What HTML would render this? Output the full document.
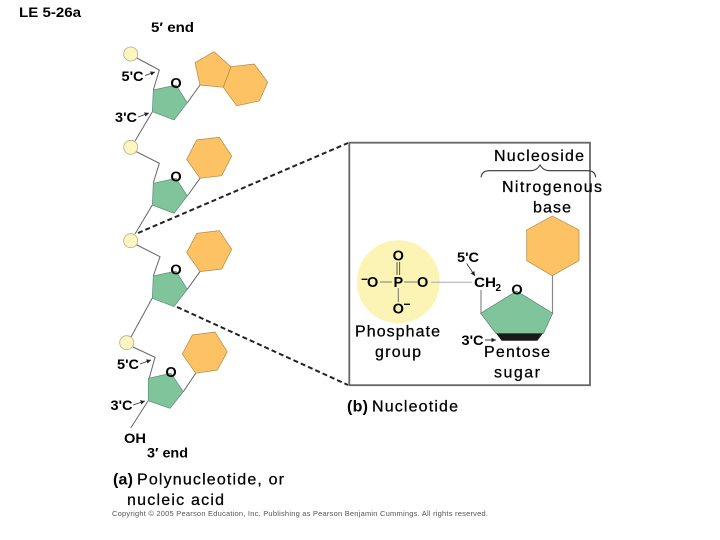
<!DOCTYPE html>
<html>
<head>
<meta charset="utf-8">
<style>
html,body{margin:0;padding:0;background:#fff;width:720px;height:540px;overflow:hidden}
svg{display:block;filter:blur(.3px)}
text{font-family:"Liberation Sans",Arial,sans-serif;fill:#000}
.l{font-size:16px;stroke:#000;stroke-width:.25}
.b{font-weight:bold;stroke-width:0}
.n{font-size:14.5px;font-weight:bold}
.s{font-size:14px;font-weight:bold}
.t{font-size:14px;font-weight:bold}
.or{fill:#fcc264;stroke:#b08a45;stroke-width:.7}
.gr{fill:#7fc49a;stroke:#5d8f72;stroke-width:.7}
.ph{fill:#fdf6c0;stroke:#b5ad80;stroke-width:.8}
.w{fill:none;stroke:#666;stroke-width:1}
.a{fill:none;stroke:#333;stroke-width:.9}
</style>
</head>
<body>
<svg width="720" height="540" viewBox="0 0 720 540" xmlns="http://www.w3.org/2000/svg">
<defs>
<marker id="h" markerWidth="6" markerHeight="6" refX="5" refY="2.5" orient="auto"><path d="M0 0L5 2.5L0 5z" fill="#222"/></marker>
</defs>

<!-- chain lines -->
<polyline class="w" points="135,57 159.3,70 153.3,90"/>
<line class="w" x1="152.3" y1="112" x2="135" y2="141"/>
<polyline class="w" points="135,151 159.3,163.3 153.3,183"/>
<line class="w" x1="152.3" y1="205" x2="135" y2="234"/>
<polyline class="w" points="135,244 160,256.7 153.3,276"/>
<line class="w" x1="152.3" y1="298" x2="131" y2="337"/>
<polyline class="w" points="133,347 155,357.3 149.3,378"/>
<line class="w" x1="148" y1="401" x2="130.7" y2="428"/>

<!-- base links -->
<line class="w" x1="187.3" y1="102.7" x2="200" y2="85"/>
<line class="w" x1="187.3" y1="196" x2="200" y2="178.3"/>
<line class="w" x1="187.3" y1="289.3" x2="200" y2="271.6"/>
<line class="w" x1="183.3" y1="391.7" x2="195.7" y2="373.3"/>

<!-- circles -->
<circle class="ph" cx="130.7" cy="54" r="7"/>
<circle class="ph" cx="130.7" cy="147.3" r="7"/>
<circle class="ph" cx="130.7" cy="240.7" r="7"/>
<circle class="ph" cx="126.7" cy="342.7" r="7"/>

<!-- sugars -->
<polygon class="gr" points="153.3,90 176,85 187.3,102.7 174,120 152.3,111.7"/>
<polygon class="gr" points="153.3,183.3 176,178.3 187.3,196 174,213.3 152.3,205"/>
<polygon class="gr" points="153.3,276 176,271 187.3,289.3 174,306.6 152.3,298.3"/>
<polygon class="gr" points="148.3,378.3 171,373.3 183.3,391.7 170,408.3 148.3,400.7"/>

<!-- bases -->
<polygon class="or" points="195,62.7 214,51.7 231,66.7 223.3,87.3 200,85"/>
<polygon class="or" points="231,66.7 254.3,64 267.7,82.3 259.3,101 236.7,105.7 223.3,87.3"/>
<polygon class="or" points="186.7,159.3 196.7,140 219.3,137.3 231.7,156 221.7,175.7 200,178.3"/>
<polygon class="or" points="186.7,252.7 196.7,233.3 219.3,230.6 231.7,249.3 221.7,269 200,271.6"/>
<polygon class="or" points="182.3,354 192.3,335 215,332 227.3,351.7 217.3,370 195.7,373.3"/>

<!-- ring O -->
<text class="n" x="176" y="88" text-anchor="middle">O</text>
<text class="n" x="176" y="181.5" text-anchor="middle">O</text>
<text class="n" x="176" y="274.5" text-anchor="middle">O</text>
<text class="n" x="171" y="377" text-anchor="middle">O</text>

<!-- C labels -->
<text class="s" x="121.5" y="81" textLength="22" lengthAdjust="spacingAndGlyphs">5'C</text>
<text class="s" x="115" y="122" textLength="22" lengthAdjust="spacingAndGlyphs">3'C</text>
<text class="s" x="117" y="369" textLength="22" lengthAdjust="spacingAndGlyphs">5'C</text>
<text class="s" x="110.5" y="410" textLength="22" lengthAdjust="spacingAndGlyphs">3'C</text>
<text class="s" x="124" y="443" textLength="22" lengthAdjust="spacingAndGlyphs">OH</text>

<line class="a" x1="145" y1="75.5" x2="155" y2="72" marker-end="url(#h)"/>
<line class="a" x1="138" y1="117" x2="149" y2="113" marker-end="url(#h)"/>
<line class="a" x1="140" y1="364" x2="151" y2="360" marker-end="url(#h)"/>
<line class="a" x1="133" y1="405" x2="145" y2="401" marker-end="url(#h)"/>

<!-- dashed zoom lines -->
<line x1="138" y1="233" x2="348" y2="143" stroke="#222" stroke-width="2" stroke-dasharray="5 3"/>
<line x1="177" y1="307" x2="348" y2="385" stroke="#222" stroke-width="2" stroke-dasharray="5 3"/>

<!-- box -->
<rect x="349.3" y="142.7" width="240.7" height="242.5" fill="#fff" stroke="#666" stroke-width="1.8"/>

<!-- brace -->
<path d="M481 177.3C482 172 485 170.7 490 170.7L530 170.7C536 170.7 538 168 540 165C542 168 544 170.7 550 170.7L587 170.7C592 170.7 595 172 595.7 177.3" fill="none" stroke="#333" stroke-width="1.1"/>

<!-- phosphate -->
<circle cx="398.3" cy="281.7" r="41.5" fill="#fbf4b4"/>
<line x1="431" y1="282.3" x2="472" y2="282.3" stroke="#aaa" stroke-width="1"/>
<line x1="380" y1="282" x2="392" y2="282" stroke="#777" stroke-width="1"/>
<line x1="404" y1="282" x2="417" y2="282" stroke="#777" stroke-width="1"/>
<line x1="397" y1="262" x2="397" y2="275" stroke="#555" stroke-width="1"/>
<line x1="399.6" y1="262" x2="399.6" y2="275" stroke="#555" stroke-width="1"/>
<line x1="398.3" y1="288" x2="398.3" y2="302" stroke="#777" stroke-width="1"/>
<text class="n" x="398.3" y="260.5" text-anchor="middle">O</text>
<text class="n" x="398.3" y="287" text-anchor="middle">P</text>
<text class="n" x="422.7" y="287" text-anchor="middle">O</text>
<text class="n" x="372.7" y="287" text-anchor="middle">O</text>
<text class="n" x="398.3" y="313.5" text-anchor="middle">O</text>
<rect x="361.5" y="278.6" width="6" height="1.4" fill="#111"/>
<rect x="404" y="303.6" width="6" height="1.4" fill="#111"/>

<!-- nucleotide sugar -->
<line x1="481" y1="290" x2="481" y2="314" stroke="#888" stroke-width="1.2"/>
<line x1="552.5" y1="275" x2="552.5" y2="314" stroke="#888" stroke-width="1.2"/>
<polygon points="495,332 544,332 537.3,340.7 501.7,340.7" fill="#1a1a1a"/>
<polygon points="480.7,313.3 516.7,291 552.7,313.3 543.5,333.3 495.8,333.3" fill="#7fc49a" stroke="#4f7a60" stroke-width=".6"/>
<polygon points="552.3,216 579,230 579,260.7 552.3,275.7 526.7,260.7 526.7,230" fill="#fcc264" stroke="#b08a45" stroke-width=".7"/>
<text class="n" x="517" y="294.5" text-anchor="middle">O</text>
<text class="s" x="474" y="287" textLength="22" lengthAdjust="spacingAndGlyphs">CH</text>
<text class="s" x="495.5" y="291" style="font-size:10px">2</text>
<text class="s" x="457" y="262" textLength="22" lengthAdjust="spacingAndGlyphs">5'C</text>
<text class="s" x="461.5" y="345" textLength="22" lengthAdjust="spacingAndGlyphs">3'C</text>
<line class="a" x1="466.7" y1="263.5" x2="475" y2="276" marker-end="url(#h)"/>
<line class="a" x1="485" y1="340" x2="496" y2="340" marker-end="url(#h)"/>

<!-- labels -->
<text class="l" x="494" y="161" textLength="90">Nucleoside</text>
<text class="l" x="502" y="192" textLength="100">Nitrogenous</text>
<text class="l" x="533" y="212.5" textLength="38">base</text>
<text class="l" x="355" y="336.5" textLength="85">Phosphate</text>
<text class="l" x="375" y="357" textLength="46">group</text>
<text class="l" x="484" y="357" textLength="66">Pentose</text>
<text class="l" x="494" y="377.5" textLength="46">sugar</text>
<text class="l b" x="347" y="411.5" textLength="21">(b)</text>
<text class="l" x="372" y="411.5" textLength="86">Nucleotide</text>
<text class="l b" x="113" y="484.5" textLength="20">(a)</text>
<text class="l" x="137" y="484.5" textLength="147">Polynucleotide, or</text>
<text class="l" x="127" y="505" textLength="97">nucleic acid</text>
<text class="t" x="151" y="32" textLength="43" lengthAdjust="spacingAndGlyphs">5′ end</text>
<text class="t" x="147" y="457.5" textLength="41" lengthAdjust="spacingAndGlyphs">3′ end</text>
<text class="t" x="19" y="17" textLength="62" lengthAdjust="spacingAndGlyphs">LE 5-26a</text>
<text x="112" y="516" textLength="376" style="font-size:7.5px;fill:#555">Copyright © 2005 Pearson Education, Inc. Publishing as Pearson Benjamin Cummings. All rights reserved.</text>
</svg>
</body>
</html>
